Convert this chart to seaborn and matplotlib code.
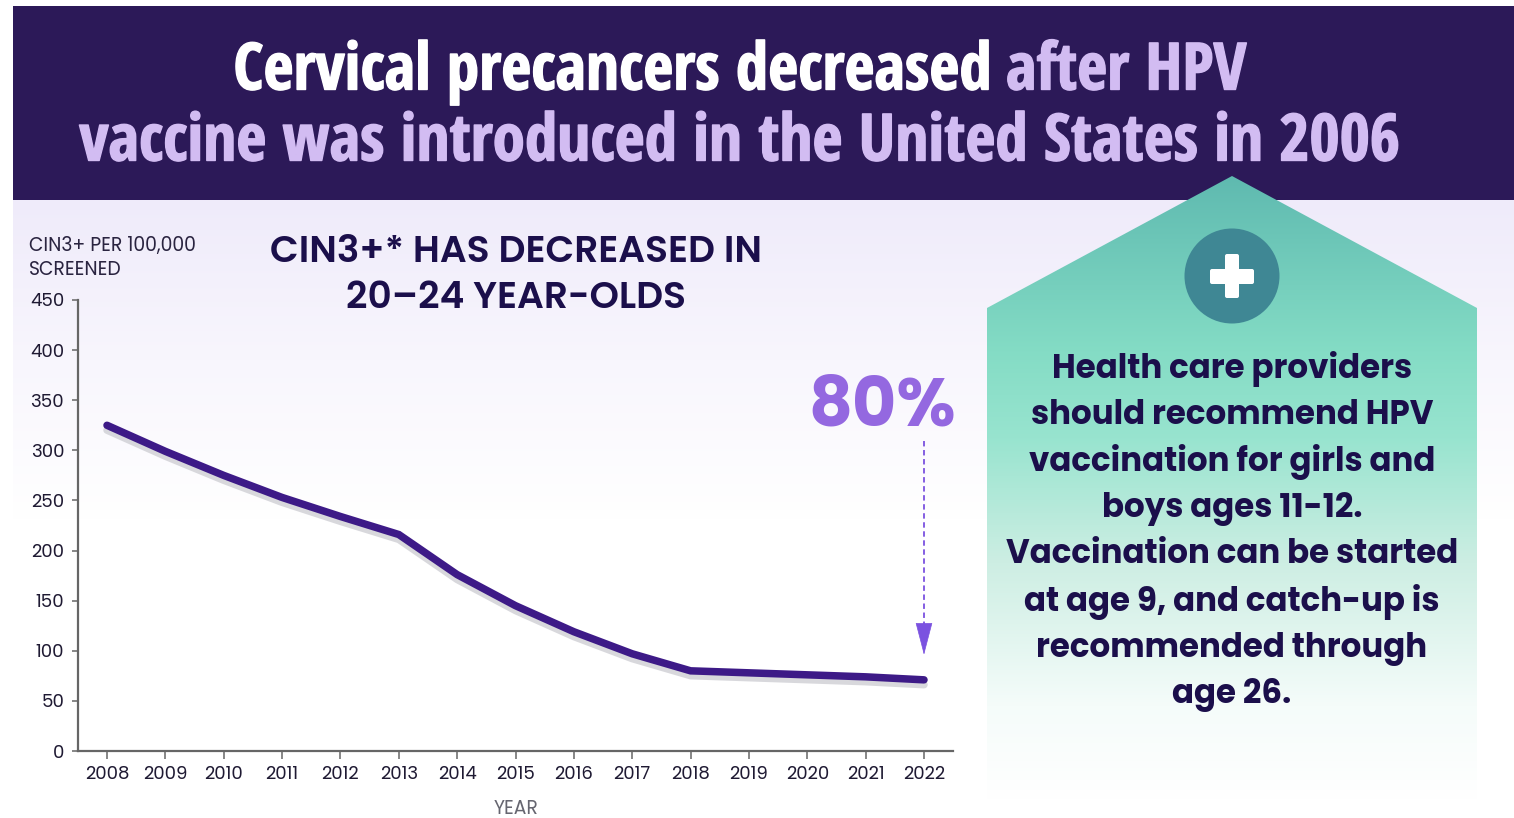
import numpy as np
import matplotlib
matplotlib.use("Agg")
import matplotlib.pyplot as plt
import matplotlib.patheffects as pe
from matplotlib.colors import LinearSegmentedColormap
from matplotlib.patches import Polygon, Ellipse, FancyBboxPatch
import seaborn as sns

years = [2008, 2009, 2010, 2011, 2012, 2013, 2014, 2015, 2016, 2017, 2018, 2019, 2020, 2021, 2022]
cin3_rate = [325, 299, 275, 253, 234, 216, 176, 145, 119, 97, 80, 78, 76, 74, 71]
y_ticks = [0, 50, 100, 150, 200, 250, 300, 350, 400, 450]
title_white = "Cervical precancers decreased"
title_accent_1 = "after HPV"
title_accent_2 = "vaccine was introduced in the United States in 2006"
chart_title = "CIN3+* HAS DECREASED IN\n20\u201324 YEAR-OLDS"
y_caption = "CIN3+ PER 100,000\nSCREENED"
x_caption = "YEAR"
callout = "80%"
panel_lines = ["Health care providers", "should recommend HPV", "vaccination for girls and",
               "boys ages 11-12.", "Vaccination can be started", "at age 9, and catch-up is",
               "recommended through", "age 26."]

W, H = 1514, 818
sns.set_theme(style="white")
BODY = ["Poppins", "Lato", "DejaVu Sans"]
NARROW = ["Open Sans Condensed", "Liberation Sans", "DejaVu Sans"]
plt.rcParams["font.family"] = BODY

NAVY = "#1b0f4b"
LILAC = "#d2bcf2"
fig = plt.figure(figsize=(W / 100, H / 100), dpi=100, facecolor="white")

bg = fig.add_axes([0, 0, 1, 1], zorder=0)
bg.axis("off")

wash = LinearSegmentedColormap.from_list("wash", ["#efebfa", "#f8f6fd", "#ffffff"])
bg.imshow(np.linspace(0, 1, 256)[:, None], cmap=wash, extent=(13, W, 520, 200), aspect="auto", zorder=1)
bg.add_patch(plt.Rectangle((13, 6), W - 13, 194, color="#2c1958", lw=0, zorder=2))

panel_cmap = LinearSegmentedColormap.from_list(
    "panel", [(0, "#5fbab0"), (0.28, "#84dcc5"), (0.42, "#98e4cf"), (0.62, "#cdeee3"), (0.85, "#f5fcfa"), (1, "#ffffff")])
im = bg.imshow(np.linspace(0, 1, 256)[:, None], cmap=panel_cmap, extent=(987, 1477, 800, 176), aspect="auto", zorder=3)
house = Polygon([(1232, 176), (1477, 308), (1477, 800), (987, 800), (987, 308)], closed=True,
                transform=bg.transData, fc="none", ec="none")
bg.add_patch(house)
im.set_clip_path(house)
bg.set_xlim(0, W)
bg.set_ylim(H, 0)
bg.add_patch(Ellipse((1232, 276), 95, 95, color="#3f8794", lw=0, zorder=4))
bg.add_patch(FancyBboxPatch((1225, 254), 14, 44, boxstyle="round,pad=0,rounding_size=2", color="white", lw=0, zorder=5))
bg.add_patch(FancyBboxPatch((1210, 269), 44, 15, boxstyle="round,pad=0,rounding_size=2", color="white", lw=0, zorder=5))

tkw = dict(family=NARROW, weight="bold", fontsize=47, va="center", zorder=6)
bold_white = [pe.withStroke(linewidth=1.0, foreground="white")]
bold_lilac = [pe.withStroke(linewidth=1.0, foreground=LILAC)]
bg.text(992, 73, title_white, color="white", ha="right", path_effects=bold_white, **tkw)
bg.text(1006, 73, title_accent_1, color=LILAC, ha="left", path_effects=bold_lilac, **tkw)
bg.text(740, 144, title_accent_2, color=LILAC, ha="center", path_effects=bold_lilac, **tkw)

bg.text(516, 276, chart_title, color=NAVY, fontsize=27, weight=600, ha="center", va="center",
        linespacing=1.27, zorder=6)
bg.text(29, 258, y_caption, color="#2a2440", fontsize=13.5, ha="left", va="center", linespacing=1.27, zorder=6)

for i, line in enumerate(panel_lines):
    bg.text(1232, 369 + i * 46.6, line, color=NAVY, fontsize=23.4, weight="bold", ha="center", va="center", zorder=6)

ax = fig.add_axes([78 / W, 1 - 751 / H, (953 - 78) / W, (751 - 300) / H], zorder=2)
ax.patch.set_alpha(0)
sns.lineplot(x=years, y=cin3_rate, ax=ax, color="#3d1a87", linewidth=5.4, errorbar=None,
             solid_joinstyle="miter", solid_capstyle="round",
             path_effects=[pe.SimpleLineShadow(offset=(0, -3.5), shadow_color="#d4d4d9", alpha=0.9), pe.Normal()])
ax.set_xlim(2008 - 29 / 58.36, 2022 + 29 / 58.36)
ax.set_ylim(0, 450)
ax.set_xticks(years)
ax.set_yticks(y_ticks)
ax.set_xlabel("")
ax.set_ylabel("")
bg.text(516, 809, x_caption, fontsize=13.5, color="#666670", ha="center", va="center", zorder=6)
for side in ("top", "right"):
    ax.spines[side].set_visible(False)
for side in ("left", "bottom"):
    ax.spines[side].set_color("#666666")
    ax.spines[side].set_linewidth(1.6)
ax.tick_params(axis="x", bottom=True, length=6, width=1.1, color="#666666", labelsize=13, labelcolor="#1f1a33", pad=5)
ax.tick_params(axis="y", left=True, length=4, width=1.1, color="#666666", labelsize=13, labelcolor="#1f1a33", pad=6)

ax.plot([2022, 2022], [309, 121], color="#7b52e0", linestyle=(0, (3, 2)), linewidth=1.3)
ax.annotate("", xy=(2022, 96), xytext=(2022, 121),
            arrowprops=dict(arrowstyle="-|>,head_width=0.47,head_length=1.8", color="#7b52e0",
                            linewidth=0.5, shrinkA=0, shrinkB=0))
bg.text(882, 409, callout, color="#9468e0", fontsize=49, weight="bold", ha="center", va="center", zorder=6)

fig.savefig("out.png", dpi=100, facecolor="white")
